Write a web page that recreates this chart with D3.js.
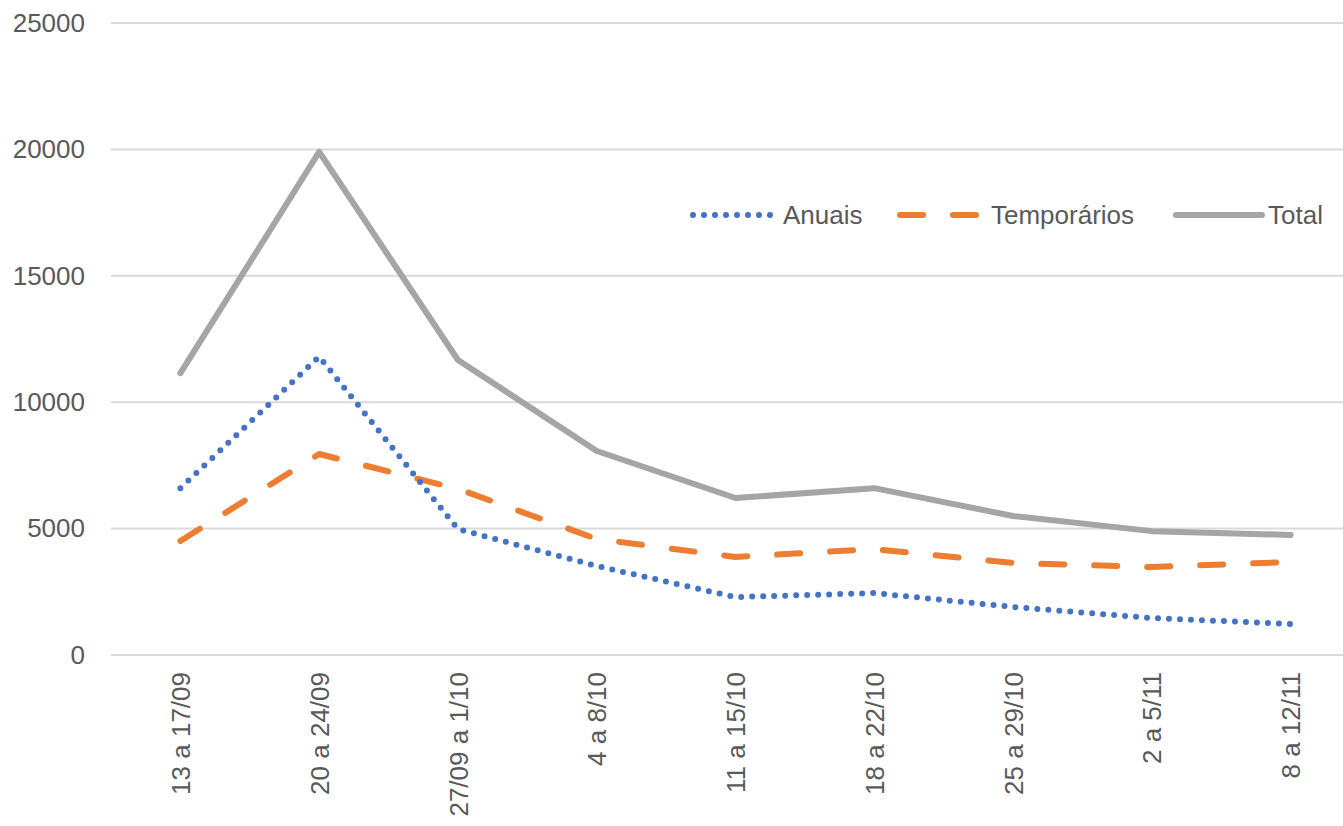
<!DOCTYPE html>
<html lang="pt">
<head>
    <meta charset="UTF-8">
    <title>Contratos semanais</title>
    <script src="https://cdnjs.cloudflare.com/ajax/libs/d3/7.8.5/d3.min.js"></script>
    <style>
        body { margin: 0; background: #ffffff; }
        text { font-family: "Liberation Sans", Arial, sans-serif; fill: #595959; }
    </style>
</head>
<body>
    <script>
        // Data
        var semanas = ["13 a 17/09", "20 a 24/09", "27/09 a 1/10", "4 a 8/10", "11 a 15/10",
                       "18 a 22/10", "25 a 29/10", "2 a 5/11", "8 a 12/11"];
        var anuais = [6600, 11800, 4980, 3520, 2290, 2450, 1900, 1460, 1230];
        var temporarios = [4510, 7950, 6570, 4590, 3880, 4190, 3640, 3480, 3680];
        var total = [11150, 19900, 11670, 8070, 6210, 6600, 5500, 4900, 4750];
        var yTicks = [0, 5000, 10000, 15000, 20000, 25000];

        var width = 1343, height = 826;

        var svg = d3.select("body")
            .append("svg")
            .attr("width", width)
            .attr("height", height);

        // Scales
        var xScale = d3.scalePoint().domain(semanas).range([111, 1360]).padding(0.5);
        var yScale = d3.scaleLinear().domain([0, 25000]).range([655, 23]);

        // Gridlines
        svg.append("g")
            .selectAll("line")
            .data(yTicks)
            .enter()
            .append("line")
            .attr("x1", 111)
            .attr("x2", 1360)
            .attr("y1", function(d) { return yScale(d); })
            .attr("y2", function(d) { return yScale(d); })
            .attr("stroke", "#d9d9d9")
            .attr("stroke-width", 2);

        // Y axis labels
        var yAxis = d3.axisLeft(yScale).tickValues(yTicks).tickFormat(d3.format("d"))
            .tickSize(0).tickPadding(0);
        svg.append("g")
            .attr("transform", "translate(85,0)")
            .call(yAxis)
            .call(function(g) { g.select(".domain").remove(); })
            .selectAll("text")
            .style("font-size", "26px")
            .style("font-family", "Liberation Sans, Arial, sans-serif")
            .attr("fill", "#595959");

        // X axis labels (rotated)
        var xAxis = d3.axisBottom(xScale).tickSize(0).tickPadding(0);
        svg.append("g")
            .attr("transform", "translate(0,672)")
            .call(xAxis)
            .call(function(g) { g.select(".domain").remove(); })
            .selectAll("text")
            .style("font-size", "26px")
            .style("font-family", "Liberation Sans, Arial, sans-serif")
            .attr("fill", "#595959")
            .attr("transform", "rotate(-90)")
            .attr("text-anchor", "end")
            .attr("x", 0)
            .attr("y", 0)
            .attr("dy", "0.35em");

        // Series
        var series = [
            { name: "Anuais", values: anuais, color: "#4472c4", dash: "0,11", w: 6 },
            { name: "Temporários", values: temporarios, color: "#ed7d31", dash: "23,30", w: 6 },
            { name: "Total", values: total, color: "#a5a5a5", dash: null, w: 6 }
        ];

        var line = d3.line()
            .x(function(d, i) { return xScale(semanas[i]); })
            .y(function(d) { return yScale(d); });

        // draw Total first so the others sit on top
        [series[2], series[1], series[0]].forEach(function(s) {
            svg.append("path")
                .datum(s.values)
                .attr("d", line)
                .attr("fill", "none")
                .attr("stroke", s.color)
                .attr("stroke-width", s.w)
                .attr("stroke-linecap", "round")
                .attr("stroke-linejoin", "round")
                .attr("stroke-dasharray", s.dash);
        });

        // Legend
        var legendItems = [
            { s: series[0], x1: 693, x2: 773, tx: 783 },
            { s: series[1], x1: 900, x2: 982, tx: 991 },
            { s: series[2], x1: 1176, x2: 1262, tx: 1268 }
        ];
        var legendY = 215;
        legendItems.forEach(function(item) {
            svg.append("line")
                .attr("x1", item.x1)
                .attr("x2", item.x2)
                .attr("y1", legendY)
                .attr("y2", legendY)
                .attr("stroke", item.s.color)
                .attr("stroke-width", item.s.w)
                .attr("stroke-linecap", "round")
                .attr("stroke-dasharray", item.s.dash);
            svg.append("text")
                .attr("x", item.tx)
                .attr("y", legendY)
                .attr("dy", "0.35em")
                .style("font-size", "26px")
                .text(item.s.name);
        });
    </script>
</body>
</html>
